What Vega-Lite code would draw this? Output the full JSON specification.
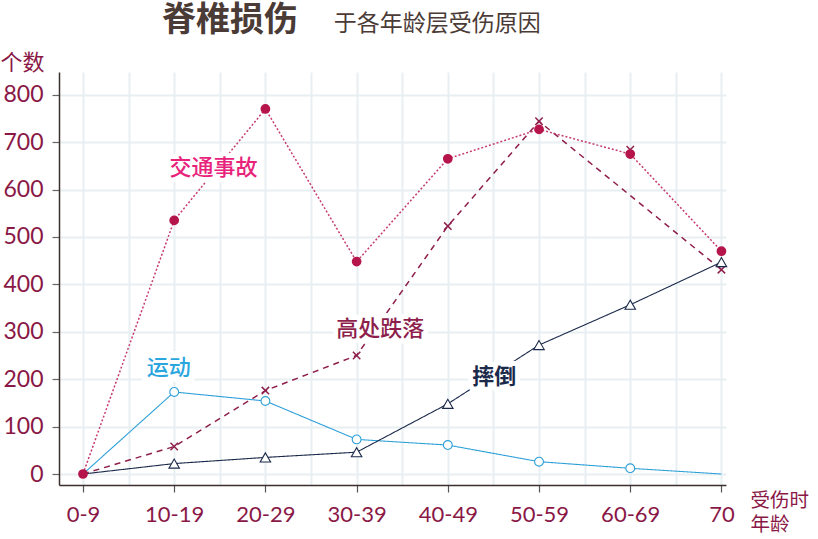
{
  "$schema": "https://vega.github.io/schema/vega-lite/v6.json",
  "width": 667,
  "height": 413,
  "autosize": "none",
  "padding": {"left": 59, "top": 72, "right": 92, "bottom": 54},
  "background": "#ffffff",
  "title": {
    "text": "脊椎损伤",
    "anchor": "start",
    "frame": "group",
    "dx": 103,
    "dy": 69,
    "baseline": "bottom",
    "offset": 10,
    "font": "Noto Sans CJK SC",
    "fontSize": 34,
    "fontWeight": "bold",
    "color": "#4b3b37"
  },
  "config": {"view": {"stroke": null}},
  "data": {
    "values": [
      {"series": "高处跌落", "age": "0-9", "ageFrom": 0, "value": 0},
      {"series": "高处跌落", "age": "10-19", "ageFrom": 10, "value": 58},
      {"series": "高处跌落", "age": "20-29", "ageFrom": 20, "value": 176},
      {"series": "高处跌落", "age": "30-39", "ageFrom": 30, "value": 250},
      {"series": "高处跌落", "age": "40-49", "ageFrom": 40, "value": 523},
      {"series": "高处跌落", "age": "50-59", "ageFrom": 50, "value": 744},
      {"series": "高处跌落", "age": "60-69", "ageFrom": 60, "value": 684},
      {"series": "高处跌落", "age": "70", "ageFrom": 70, "value": 431},
      {"series": "运动", "age": "0-9", "ageFrom": 0, "value": 0},
      {"series": "运动", "age": "10-19", "ageFrom": 10, "value": 173},
      {"series": "运动", "age": "20-29", "ageFrom": 20, "value": 154},
      {"series": "运动", "age": "30-39", "ageFrom": 30, "value": 73},
      {"series": "运动", "age": "40-49", "ageFrom": 40, "value": 61},
      {"series": "运动", "age": "50-59", "ageFrom": 50, "value": 26},
      {"series": "运动", "age": "60-69", "ageFrom": 60, "value": 12},
      {"series": "运动", "age": "70", "ageFrom": 70, "value": 0},
      {"series": "摔倒", "age": "0-9", "ageFrom": 0, "value": 0},
      {"series": "摔倒", "age": "10-19", "ageFrom": 10, "value": 22},
      {"series": "摔倒", "age": "20-29", "ageFrom": 20, "value": 35},
      {"series": "摔倒", "age": "30-39", "ageFrom": 30, "value": 46},
      {"series": "摔倒", "age": "40-49", "ageFrom": 40, "value": 148},
      {"series": "摔倒", "age": "50-59", "ageFrom": 50, "value": 272},
      {"series": "摔倒", "age": "60-69", "ageFrom": 60, "value": 357},
      {"series": "摔倒", "age": "70", "ageFrom": 70, "value": 447},
      {"series": "交通事故", "age": "0-9", "ageFrom": 0, "value": 0},
      {"series": "交通事故", "age": "10-19", "ageFrom": 10, "value": 535},
      {"series": "交通事故", "age": "20-29", "ageFrom": 20, "value": 770},
      {"series": "交通事故", "age": "30-39", "ageFrom": 30, "value": 448},
      {"series": "交通事故", "age": "40-49", "ageFrom": 40, "value": 665},
      {"series": "交通事故", "age": "50-59", "ageFrom": 50, "value": 727},
      {"series": "交通事故", "age": "60-69", "ageFrom": 60, "value": 675},
      {"series": "交通事故", "age": "70", "ageFrom": 70, "value": 470}
    ]
  },
  "layer": [
    {
      "transform": [{"filter": "!(datum.series === '高处跌落' && datum.ageFrom === 60)"}],
      "mark": {"type": "line"},
      "encoding": {
        "x": {
          "field": "ageFrom",
          "type": "quantitative",
          "scale": {"domain": [-2.63, 70.5], "nice": false, "zero": false},
          "axis": {
            "orient": "bottom",
            "values": [0, 5, 10, 15, 20, 25, 30, 35, 40, 45, 50, 55, 60, 65, 70],
            "labelExpr": "datum.value % 10 !== 0 ? '' : (datum.value === 70 ? '70' : datum.value + '-' + (datum.value + 9))",
            "grid": true,
            "gridColor": "#e8eff2",
            "gridWidth": 2,
            "domainColor": "#3b2f2f",
            "domainWidth": 1.5,
            "tickColor": "#555555",
            "tickOpacity": {"condition": {"test": "datum.value % 10 === 0", "value": 1}, "value": 0},
            "tickSize": 7,
            "tickWidth": 1.2,
            "labelFont": "Lato",
            "labelFontSize": 22,
            "labelColor": "#8a1846",
            "labelPadding": 12,
            "labelFlush": false,
            "labelOverlap": false,
            "title": ["受伤时", "年龄"],
            "titleX": 691,
            "titleY": 6,
            "titleAlign": "left",
            "titleBaseline": "top",
            "titleFont": "Noto Sans CJK SC",
            "titleFontSize": 19.5,
            "titleFontWeight": "normal",
            "titleColor": "#8a1846",
            "titleLineHeight": 24
          }
        },
        "y": {
          "field": "value",
          "type": "quantitative",
          "scale": {"domain": [-23.2, 848], "nice": false, "zero": false},
          "axis": {
            "orient": "left",
            "values": [0, 100, 200, 300, 400, 500, 600, 700, 800],
            "grid": true,
            "gridColor": "#e8eff2",
            "gridWidth": 2,
            "domainColor": "#3b2f2f",
            "domainWidth": 1.5,
            "tickColor": "#666666",
            "tickSize": 7,
            "tickWidth": 1.2,
            "labelFont": "Lato",
            "labelFontSize": 23,
            "labelColor": "#8a1846",
            "labelPadding": 9,
            "labelFlush": false,
            "labelOverlap": false,
            "title": "个数",
            "titleAngle": 0,
            "titleX": -37,
            "titleY": -10,
            "titleAlign": "center",
            "titleBaseline": "middle",
            "titleFont": "Noto Sans CJK SC",
            "titleFontSize": 22,
            "titleFontWeight": "normal",
            "titleColor": "#8a1846"
          }
        },
        "color": {
          "field": "series",
          "type": "nominal",
          "scale": {"domain": ["交通事故", "高处跌落", "摔倒", "运动"], "range": ["#c63a72", "#8e1f4c", "#1b2a4a", "#2ea0d8"]},
          "legend": null
        },
        "strokeDash": {
          "field": "series",
          "type": "nominal",
          "scale": {"domain": ["交通事故", "高处跌落", "摔倒", "运动"], "range": [[2, 2], [6, 5], [1, 0], [1, 0]]},
          "legend": null
        },
        "strokeWidth": {
          "field": "series",
          "type": "nominal",
          "scale": {"type": "ordinal", "domain": ["交通事故", "高处跌落", "摔倒", "运动"], "range": [1.5, 1.5, 1.1, 1.1]},
          "legend": null
        }
      }
    },
    {
      "transform": [{"filter": "(datum.ageFrom > 0 || datum.series === '交通事故') && !(datum.series === '运动' && datum.ageFrom === 70)"}],
      "mark": {"type": "point", "filled": false, "opacity": 1},
      "encoding": {
        "x": {"field": "ageFrom", "type": "quantitative"},
        "y": {"field": "value", "type": "quantitative"},
        "shape": {
          "field": "series",
          "type": "nominal",
          "scale": {"domain": ["交通事故", "高处跌落", "摔倒", "运动"], "range": ["circle", "M-1,-1L1,1M-1,1L1,-1", "triangle-up", "circle"]},
          "legend": null
        },
        "stroke": {
          "field": "series",
          "type": "nominal",
          "scale": {"domain": ["交通事故", "高处跌落", "摔倒", "运动"], "range": ["#b5154b", "#8e1f4c", "#1b2a4a", "#2ea0d8"]},
          "legend": null
        },
        "fill": {
          "field": "series",
          "type": "nominal",
          "scale": {"domain": ["交通事故", "高处跌落", "摔倒", "运动"], "range": ["#b5154b", "#ffffff", "#ffffff", "#ffffff"]},
          "legend": null
        },
        "size": {
          "field": "series",
          "type": "nominal",
          "scale": {"type": "ordinal", "domain": ["交通事故", "高处跌落", "摔倒", "运动"], "range": [68, 55, 110, 78]},
          "legend": null
        },
        "strokeWidth": {
          "field": "series",
          "type": "nominal",
          "scale": {"type": "ordinal", "domain": ["交通事故", "高处跌落", "摔倒", "运动"], "range": [0.5, 2.5, 2, 1.5]},
          "legend": null
        }
      }
    },
    {
      "data": {"values": [{}]},
      "mark": {"type": "text", "text": "于各年龄层受伤原因", "font": "Noto Sans CJK SC", "fontSize": 23, "fill": "#4b3b37", "baseline": "middle", "align": "left"},
      "encoding": {
        "x": {"datum": 27.5, "type": "quantitative"},
        "y": {"datum": 949, "type": "quantitative"}
      }
    },
    {
      "data": {"values": [{}]},
      "encoding": {
        "x": {"datum": 14.3, "type": "quantitative"},
        "y": {"datum": 645, "type": "quantitative"}
      },
      "layer": [
        {"mark": {"type": "text", "text": "交通事故", "font": "Noto Sans CJK SC", "fontSize": 22, "fontWeight": 500, "fill": "#ffffff", "stroke": "#ffffff", "strokeWidth": 10, "strokeJoin": "round", "baseline": "middle", "align": "center"}},
        {"mark": {"type": "text", "text": "交通事故", "font": "Noto Sans CJK SC", "fontSize": 22, "fontWeight": 500, "fill": "#e8237b", "baseline": "middle", "align": "center"}}
      ]
    },
    {
      "data": {"values": [{}]},
      "encoding": {
        "x": {"datum": 9.4, "type": "quantitative"},
        "y": {"datum": 224, "type": "quantitative"}
      },
      "layer": [
        {"mark": {"type": "text", "text": "运动", "font": "Noto Sans CJK SC", "fontSize": 22, "fontWeight": 500, "fill": "#ffffff", "stroke": "#ffffff", "strokeWidth": 14, "strokeJoin": "round", "baseline": "middle", "align": "center"}},
        {"mark": {"type": "text", "text": "运动", "font": "Noto Sans CJK SC", "fontSize": 22, "fontWeight": 500, "fill": "#2aa6df", "baseline": "middle", "align": "center"}}
      ]
    },
    {
      "data": {"values": [{}]},
      "encoding": {
        "x": {"datum": 32.6, "type": "quantitative"},
        "y": {"datum": 306, "type": "quantitative"}
      },
      "layer": [
        {"mark": {"type": "text", "text": "高处跌落", "font": "Noto Sans CJK SC", "fontSize": 22, "fontWeight": 500, "fill": "#ffffff", "stroke": "#ffffff", "strokeWidth": 10, "strokeJoin": "round", "baseline": "middle", "align": "center"}},
        {"mark": {"type": "text", "text": "高处跌落", "font": "Noto Sans CJK SC", "fontSize": 22, "fontWeight": 500, "fill": "#8e1f4c", "baseline": "middle", "align": "center"}}
      ]
    },
    {
      "data": {"values": [{}]},
      "encoding": {
        "x": {"datum": 45.1, "type": "quantitative"},
        "y": {"datum": 205, "type": "quantitative"}
      },
      "layer": [
        {"mark": {"type": "text", "text": "摔倒", "font": "Noto Sans CJK SC", "fontSize": 22, "fontWeight": "bold", "fill": "#ffffff", "stroke": "#ffffff", "strokeWidth": 10, "strokeJoin": "round", "baseline": "middle", "align": "center"}},
        {"mark": {"type": "text", "text": "摔倒", "font": "Noto Sans CJK SC", "fontSize": 22, "fontWeight": "bold", "fill": "#1b2a4a", "baseline": "middle", "align": "center"}}
      ]
    }
  ]
}
